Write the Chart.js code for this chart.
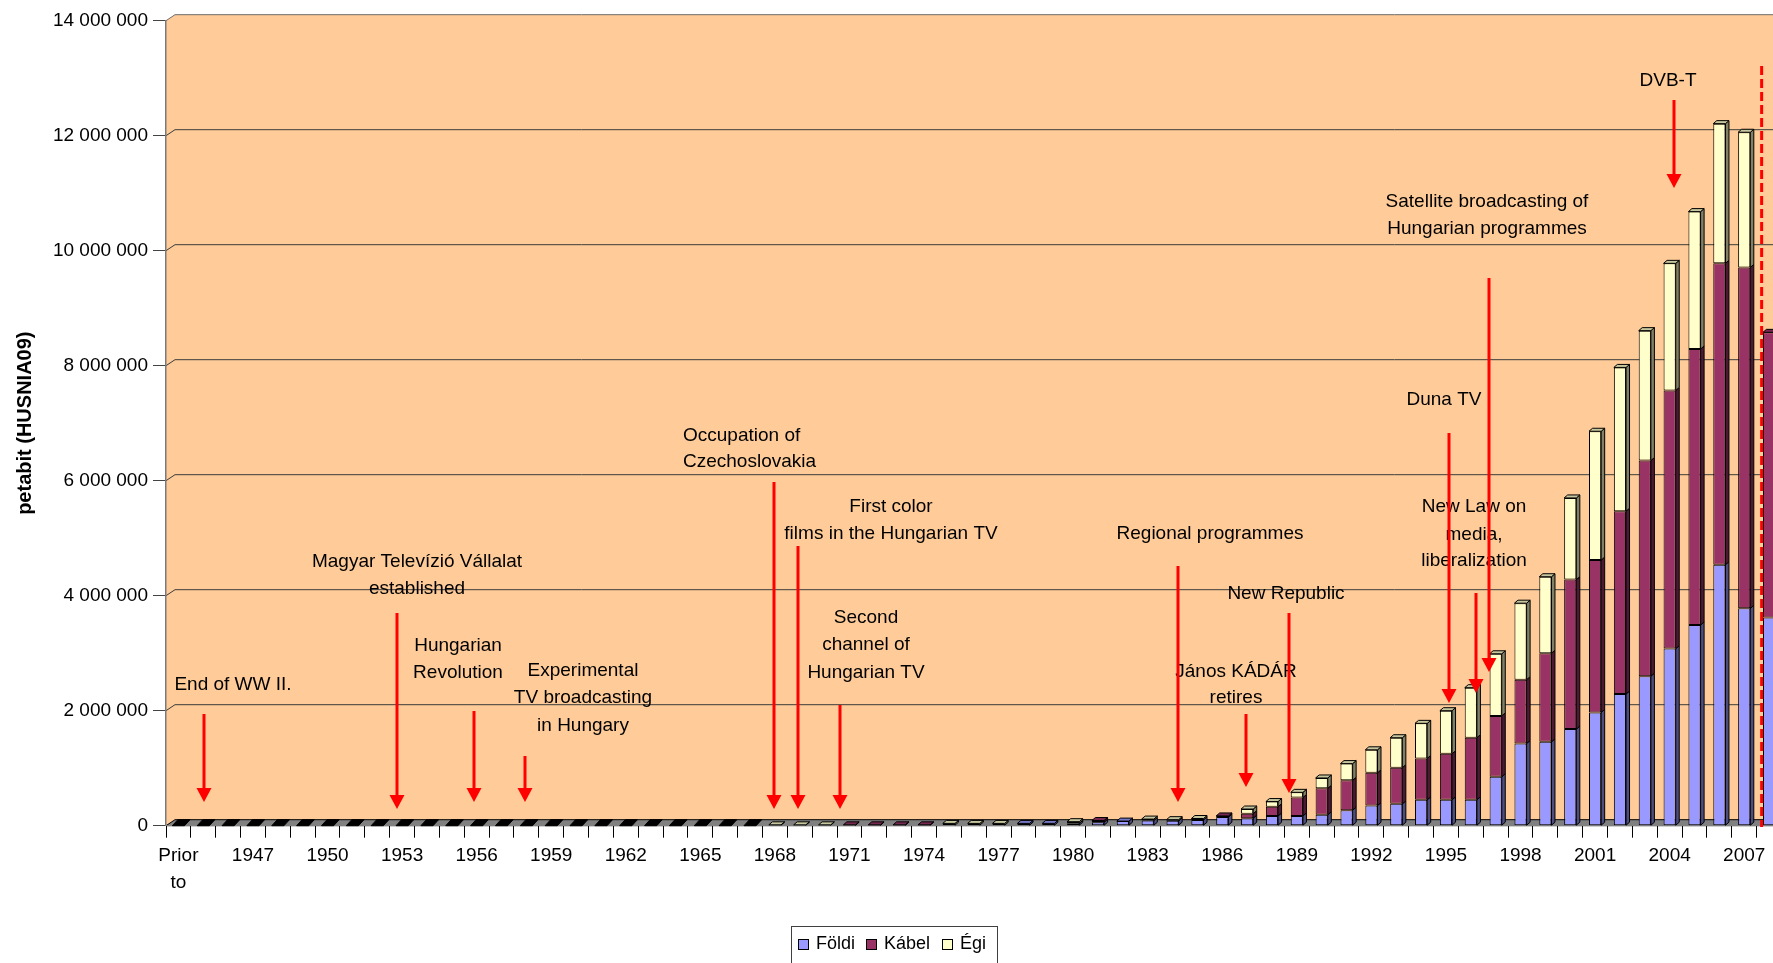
<!DOCTYPE html>
<html>
<head>
<meta charset="utf-8">
<script src="https://cdn.jsdelivr.net/npm/chart.js@4.4.1/dist/chart.umd.min.js"></script>
<style>
  html, body { margin: 0; padding: 0; width: 1773px; height: 963px; overflow: hidden; background: #fff; }
  #wrap { position: absolute; left: 0; top: 0; width: 1800px; height: 963px; }
</style>
</head>
<body>
<div id="wrap"><canvas id="chart" width="1800" height="963"></canvas></div>
<script>
// categories: "Prior to" then every year 1945..2008
const years = ['Prior to'];
for (let y = 1945; y <= 2008; y++) years.push(String(y));

// petabit values (index 0 = Prior to, 1 = 1945 ... 64 = 2008)
const foldi = [
  0, 0, 0, 0, 0, 0, 0, 0, 0, 0,            // Prior..1953
  0, 0, 0, 0, 0, 0, 0, 0, 0, 0,            // 1954..1963
  0, 0, 0, 0, 0, 0, 0, 0, 0, 0,            // 1964..1973
  0, 0, 0, 0, 40000, 40000, 40000, 60000, 80000, 90000,          // 1974..1983
  85000, 100000, 150000, 130000, 170000, 170000, 190000, 270000, 350000, 380000,   // 1984..1993
  450000, 450000, 450000, 850000, 1430000, 1460000, 1680000, 1970000, 2290000, 2600000, // 1994..2003
  3080000, 3490000, 4540000, 3780000, 3620000                     // 2004..2008
];
const kabel = [
  0, 0, 0, 0, 0, 0, 0, 0, 0, 0,
  0, 0, 0, 0, 0, 0, 0, 0, 0, 0,
  0, 0, 0, 0, 0, 0, 0, 15000, 15000, 15000,
  15000, 0, 0, 0, 0, 0, 0, 30000, 0, 0,
  0, 0, 20000, 80000, 160000, 320000, 460000, 520000, 570000, 630000,
  720000, 800000, 1080000, 1060000, 1110000, 1540000, 2600000, 2650000, 3180000, 3750000,
  4490000, 4800000, 5240000, 5930000, 4960000
];
const egi = [
  0, 0, 0, 0, 0, 0, 0, 0, 0, 0,
  0, 0, 0, 0, 0, 0, 0, 0, 0, 0,
  0, 0, 0, 0, 15000, 15000, 15000, 0, 0, 0,
  0, 40000, 40000, 40000, 0, 0, 30000, 0, 0, 25000,
  20000, 25000, 0, 80000, 90000, 90000, 180000, 290000, 400000, 520000,
  610000, 750000, 870000, 1080000, 1330000, 1330000, 1420000, 2240000, 2500000, 2260000,
  2210000, 2390000, 2430000, 2350000, 0
];
const yTicks = [0, 2000000, 4000000, 6000000, 8000000, 10000000, 12000000, 14000000];

// event notes: text lines, text centre / line y, arrow x and arrow start / tip y (pixels)
const notes = [
  { lines: ['End of WW II.'], tx: 233, ty: [685], ax: 204, ay1: 714, ay2: 802 },
  { lines: ['Magyar Televízió Vállalat', 'established'], tx: 417, ty: [562, 589], ax: 397, ay1: 613, ay2: 809 },
  { lines: ['Hungarian', 'Revolution'], tx: 458, ty: [646, 673], ax: 474, ay1: 711, ay2: 802 },
  { lines: ['Experimental', 'TV broadcasting', 'in Hungary'], tx: 583, ty: [671, 698, 726], ax: 525, ay1: 756, ay2: 802 },
  { lines: ['Occupation of', 'Czechoslovakia'], tx: 683, left: true, ty: [436, 462], ax: 774, ay1: 482, ay2: 809 },
  { lines: ['First color', 'films in the Hungarian TV'], tx: 891, ty: [507, 534], ax: 798, ay1: 546, ay2: 809 },
  { lines: ['Second', 'channel of', 'Hungarian TV'], tx: 866, ty: [618, 645, 673], ax: 840, ay1: 705, ay2: 809 },
  { lines: ['Regional programmes'], tx: 1210, ty: [534], ax: 1178, ay1: 566, ay2: 802 },
  { lines: ['János KÁDÁR', 'retires'], tx: 1236, ty: [672, 698], ax: 1246, ay1: 714, ay2: 787 },
  { lines: ['New Republic'], tx: 1286, ty: [594], ax: 1289, ay1: 613, ay2: 793 },
  { lines: ['Duna TV'], tx: 1444, ty: [400], ax: 1449, ay1: 433, ay2: 703 },
  { lines: ['New Law on', 'media,', 'liberalization'], tx: 1474, ty: [507, 535, 561], ax: 1476, ay1: 593, ay2: 693 },
  { lines: ['Satellite broadcasting of', 'Hungarian programmes'], tx: 1487, ty: [202, 229], ax: 1489, ay1: 278, ay2: 672 },
  { lines: ['DVB-T'], tx: 1668, ty: [81], ax: 1674, ay1: 100, ay2: 188 }
];

const FONT = "'Liberation Sans', Arial, sans-serif";
const WALL = { dx: 9, dy: 6 };
const BAR = { dx: 3.5, dy: 3 };

function shade(hex, f) {
  const n = parseInt(hex.slice(1), 16);
  const r = Math.round(((n >> 16) & 255) * f);
  const g = Math.round(((n >> 8) & 255) * f);
  const b = Math.round((n & 255) * f);
  return 'rgb(' + r + ',' + g + ',' + b + ')';
}

function poly(ctx, pts, fill, stroke) {
  ctx.beginPath();
  ctx.moveTo(pts[0][0], pts[0][1]);
  for (let i = 1; i < pts.length; i++) ctx.lineTo(pts[i][0], pts[i][1]);
  ctx.closePath();
  if (fill) { ctx.fillStyle = fill; ctx.fill(); }
  if (stroke) { ctx.strokeStyle = stroke; ctx.stroke(); }
}

const scene3d = {
  id: 'scene3d',
  beforeDraw(chart) {
    const ctx = chart.ctx, a = chart.chartArea, ys = chart.scales.y;
    const L = a.left, R = a.right + 40, T = a.top, B = a.bottom;
    ctx.save();
    // back wall
    poly(ctx, [[L, B], [L, T], [L + WALL.dx, T - WALL.dy], [R, T - WALL.dy], [R, B]], '#FFCC99');
    // gridlines on the back wall
    ctx.lineWidth = 1;
    yTicks.forEach(v => {
      if (v === 0) return;
      const py = ys.getPixelForValue(v);
      ctx.beginPath();
      ctx.moveTo(L, py);
      ctx.lineTo(L + WALL.dx, py - WALL.dy);
      ctx.lineTo(R, py - WALL.dy);
      ctx.strokeStyle = v === 14000000 ? '#6b6b6b' : '#3a3a3a';
      ctx.stroke();
    });
    // floor
    poly(ctx, [[L, B], [L + WALL.dx, B - WALL.dy], [R, B - WALL.dy], [R, B]], '#808080', '#000');
    ctx.restore();
  },
  afterDatasetsDraw(chart) {
    const ctx = chart.ctx, ds = chart.data.datasets;
    const B = chart.scales.y.getPixelForValue(0);
    const metas = ds.map((d, i) => chart.getDatasetMeta(i));
    ctx.save();
    ctx.lineWidth = 1;
    ctx.lineJoin = 'miter';
    for (let i = 0; i < chart.data.labels.length; i++) {
      let top = null;
      metas.forEach((m, di) => {
        if (!ds[di].data[i]) return;
        const p = m.data[i].getProps(['x', 'y', 'base', 'width'], true);
        const col = ds[di].backgroundColor;
        const r = p.x + p.width / 2;
        poly(ctx, [[r, p.y], [r + BAR.dx, p.y - BAR.dy], [r + BAR.dx, p.base - BAR.dy], [r, p.base]], shade(col, 0.5), '#000');
        top = { p, col };
      });
      if (top) {
        const l = top.p.x - top.p.width / 2, r = top.p.x + top.p.width / 2, y = top.p.y;
        poly(ctx, [[l, y], [l + BAR.dx, y - BAR.dy], [r + BAR.dx, y - BAR.dy], [r, y]], shade(top.col, 0.78), '#000');
      } else {
        // empty year: dark footprint on the floor
        const p = metas[0].data[i].getProps(['x', 'width'], true);
        const l = p.x - p.width / 2, r = p.x + p.width / 2;
        poly(ctx, [[l, B], [l + BAR.dx + 2, B - WALL.dy], [r + BAR.dx + 2, B - WALL.dy], [r, B]], '#000', '#000');
      }
    }
    ctx.restore();
  },
  afterDraw(chart) {
    const ctx = chart.ctx, xs = chart.scales.x;
    ctx.save();
    // notes and arrows
    ctx.font = '19px ' + FONT;
    ctx.fillStyle = '#000';
    ctx.textBaseline = 'middle';
    notes.forEach(n => {
      ctx.textAlign = n.left ? 'left' : 'center';
      n.lines.forEach((t, k) => ctx.fillText(t, n.tx, n.ty[k]));
    });
    ctx.strokeStyle = '#FF0000';
    notes.forEach(n => {
      ctx.lineWidth = 3;
      ctx.beginPath();
      ctx.moveTo(n.ax, n.ay1);
      ctx.lineTo(n.ax, n.ay2 - 10);
      ctx.stroke();
      poly(ctx, [[n.ax - 7.5, n.ay2 - 14], [n.ax + 7.5, n.ay2 - 14], [n.ax, n.ay2]], '#FF0000');
    });
    // dashed marker between 2007 and 2008
    const dx = (xs.getPixelForValue(63) + xs.getPixelForValue(64)) / 2 + 5;
    ctx.lineWidth = 3;
    ctx.setLineDash([9, 4]);
    ctx.beginPath();
    ctx.moveTo(dx, 66);
    ctx.lineTo(dx, 827);
    ctx.stroke();
    ctx.setLineDash([]);
    // legend
    ctx.lineWidth = 1;
    ctx.fillStyle = '#fff';
    ctx.fillRect(791.5, 926.5, 206, 60);
    ctx.strokeStyle = '#404040';
    ctx.strokeRect(791.5, 926.5, 206, 60);
    const lx = [798, 866, 942];
    ctx.font = '18px ' + FONT;
    ctx.textAlign = 'left';
    chart.data.datasets.forEach((d, i) => {
      ctx.fillStyle = d.backgroundColor;
      ctx.fillRect(lx[i] + 0.5, 939.5, 10, 10);
      ctx.strokeStyle = '#000';
      ctx.strokeRect(lx[i] + 0.5, 939.5, 10, 10);
      ctx.fillStyle = '#000';
      ctx.fillText(d.label, lx[i] + 18, 944);
    });
    ctx.restore();
  }
};

const fmt = v => String(v).replace(/\B(?=(\d{3})+(?!\d))/g, ' ');

new Chart(document.getElementById('chart'), {
  type: 'bar',
  data: {
    labels: years,
    datasets: [
      { label: 'Földi', data: foldi, backgroundColor: '#9999FF' },
      { label: 'Kábel', data: kabel, backgroundColor: '#993366' },
      { label: 'Égi', data: egi, backgroundColor: '#FFFFCC' }
    ]
  },
  options: {
    responsive: false,
    animation: false,
    layout: { padding: { top: 20.7, right: 18.5, bottom: 0, left: 0 } },
    datasets: {
      bar: { borderColor: '#000', borderWidth: 1, borderSkipped: false, barPercentage: 0.49, categoryPercentage: 1 }
    },
    font: { family: FONT },
    plugins: { legend: { display: false }, tooltip: { enabled: false } },
    scales: {
      x: {
        stacked: true,
        afterFit: s => { s.height = 137.3; },
        grid: { drawOnChartArea: false, drawTicks: true, tickLength: 12, color: '#000', offset: true },
        border: { display: true, color: '#808080', width: 1 },
        ticks: {
          autoSkip: false, maxRotation: 0, minRotation: 0, padding: 4.5, color: '#000',
          font: { family: FONT, size: 19, lineHeight: 1.42 },
          callback: function (v, i) {
            if (i % 3 !== 0) return '';
            const l = this.getLabelForValue(v);
            return l === 'Prior to' ? ['Prior', 'to'] : l;
          }
        }
      },
      y: {
        stacked: true,
        min: 0, max: 14000000,
        afterFit: s => { s.width = 166; },
        afterBuildTicks: s => { s.ticks = yTicks.map(v => ({ value: v })); },
        grid: { drawOnChartArea: false, drawTicks: true, tickLength: 13, color: '#444' },
        border: { display: true, color: '#7a7a7a', width: 1.5 },
        ticks: { padding: 5, color: '#000', font: { family: FONT, size: 19 }, callback: v => fmt(v) },
        title: {
          display: true, text: 'petabit (HUSNIA09)', color: '#000',
          font: { family: FONT, size: 20, weight: 'bold' }, padding: { top: 13, bottom: 0 }
        }
      }
    }
  },
  plugins: [scene3d]
});
</script>
</body>
</html>
